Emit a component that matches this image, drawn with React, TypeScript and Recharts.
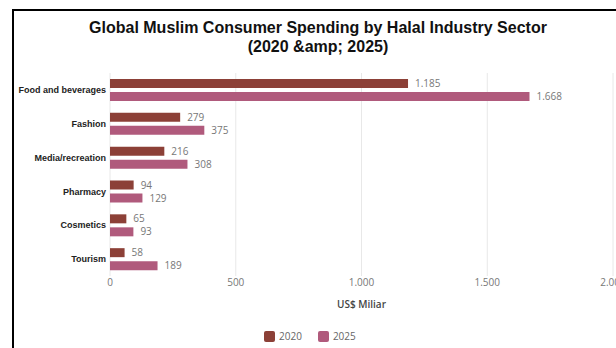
import { BarChart, Bar, XAxis, YAxis, CartesianGrid, LabelList, Legend } from 'recharts';

const sectors = ['Food and beverages', 'Fashion', 'Media/recreation', 'Pharmacy', 'Cosmetics', 'Tourism'];
const spending2020 = [1185, 279, 216, 94, 65, 58];
const spending2025 = [1668, 375, 308, 129, 93, 189];
const xTicks = [0, 500, 1000, 1500, 2000];

const data = sectors.map((sector, i) => ({
  sector,
  y2020: spending2020[i],
  y2025: spending2025[i],
}));

const COLOR_2020 = '#8c4037';
const COLOR_2025 = '#b05a7c';

// indonesian style thousands: 1.185
const fmt = (v: any) => String(v).replace(/\B(?=(\d{3})+(?!\d))/g, '.');

// plain tick so long names don't wrap
const SectorTick = (props: any) => {
  const { x, y, payload } = props;
  return (
    <text x={x} y={y} dy="0.35em" textAnchor="end" fontFamily="Liberation Sans" fontSize={9} fontWeight="bold" fill="#222">
      {payload.value}
    </text>
  );
};

const renderLegend = (props: any) => (
  <div style={{ display: 'flex', gap: 16, fontFamily: 'Open Sans', fontSize: 10, color: '#666' }}>
    {props.payload.map((p: any) => (
      <div key={p.value} style={{ display: 'flex', alignItems: 'center', gap: 4 }}>
        <span style={{ width: 11, height: 11, borderRadius: 2, background: p.color, display: 'inline-block' }} />
        <span>{p.value}</span>
      </div>
    ))}
  </div>
);

export default function App() {
  return (
    <div style={{ position: 'absolute', left: 0, top: 0, width: 616, height: 348, overflow: 'hidden', background: '#fff' }}>
      <div style={{ position: 'absolute', left: 12, top: 9, width: 700, height: 400, borderLeft: '2px solid #000', borderTop: '2px solid #000' }} />
      <div
        style={{
          position: 'absolute',
          left: 12,
          top: 18,
          width: 612,
          textAlign: 'center',
          fontFamily: 'Liberation Sans',
          fontWeight: 'bold',
          fontSize: 16,
          lineHeight: '19px',
          color: '#111',
        }}
      >
        Global Muslim Consumer Spending by Halal Industry Sector
        <br />
        (2020 &amp;amp; 2025)
      </div>
      <div style={{ position: 'absolute', left: 0, top: 0 }}>
        <BarChart
          width={640}
          height={348}
          data={data}
          layout="vertical"
          margin={{ top: 73, right: 27, bottom: 26, left: 0 }}
          barSize={9}
          barGap={4}
        >
          <CartesianGrid horizontal={false} stroke="#e8e8e8" />
          <XAxis
            type="number"
            domain={[0, 2000]}
            ticks={xTicks}
            tickFormatter={fmt}
            axisLine={false}
            tickLine={false}
            tickSize={0}
            tickMargin={3}
            height={32}
            tick={{ fontFamily: 'Open Sans', fontSize: 10, fill: '#777' }}
            label={{
              value: 'US$ Miliar',
              position: 'insideBottom',
              offset: 0,
              style: { fontFamily: 'Open Sans', fontSize: 10, fontWeight: 600, fill: '#444' },
            }}
          />
          <YAxis
            type="category"
            dataKey="sector"
            width={110}
            axisLine={false}
            tickLine={false}
            tickSize={0}
            tickMargin={4}
            tick={<SectorTick />}
          />
          <Legend
            content={renderLegend}
            wrapperStyle={{ left: 264, bottom: 5, width: 'auto' }}
          />
          <Bar dataKey="y2020" name="2020" fill={COLOR_2020} isAnimationActive={false}>
            <LabelList dataKey="y2020" position="right" offset={7} formatter={fmt} style={{ fontFamily: 'Open Sans', fontSize: 10, fill: '#777' }} />
          </Bar>
          <Bar dataKey="y2025" name="2025" fill={COLOR_2025} isAnimationActive={false}>
            <LabelList dataKey="y2025" position="right" offset={7} formatter={fmt} style={{ fontFamily: 'Open Sans', fontSize: 10, fill: '#777' }} />
          </Bar>
        </BarChart>
      </div>
    </div>
  );
}
